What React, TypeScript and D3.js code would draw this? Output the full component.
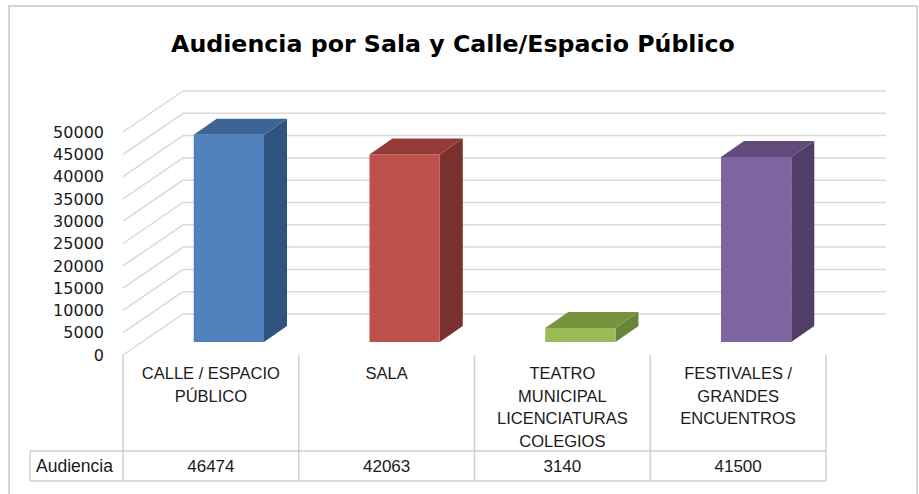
import React from "react";
import * as d3 from "d3";

const categories: string[][] = [
  ["CALLE / ESPACIO", "PÚBLICO"],
  ["SALA"],
  ["TEATRO", "MUNICIPAL", "LICENCIATURAS", "COLEGIOS"],
  ["FESTIVALES /", "GRANDES", "ENCUENTROS"],
];
const values: number[] = [46474, 42063, 3140, 41500];
const seriesName = "Audiencia";
const yTicks: number[] = [0, 5000, 10000, 15000, 20000, 25000, 30000, 35000, 40000, 45000, 50000];
const frontColors = ["#4F81BD", "#C0504D", "#9BBB59", "#8064A2"];
const topColors = ["#3C6494", "#943B39", "#77933C", "#604B7B"];
const sideColors = ["#31537F", "#7A302E", "#67843A", "#503E66"];
const title = "Audiencia por Sala y Calle/Espacio Público";

const W = 919;
const H = 494;
const plotLeft = 123;
const plotRight = 826;
const floorY = 355;
const topY = 132;
const wallDX = 60;
const wallDY = -41;
const barDX = 19;
const barDY = -13;
const depthDX = 23;
const depthDY = -16;

export default function App() {
  const x = d3.scaleBand<number>().domain(d3.range(categories.length)).range([plotLeft, plotRight]).padding(0);
  const y = d3.scaleLinear().domain([0, 50000]).range([floorY, topY]);
  const bw = x.bandwidth();
  const barW = bw * 0.4;
  const gridColor = "#d9d9d9";
  const tableColor = "#cfcfcf";
  const tableFont = "'Liberation Sans', Arial, sans-serif";
  const rowTop = 451;
  const rowBottom = 481;
  const tableLeft = 30;

  return (
    <svg width={W} height={H} style={{ position: "absolute", left: 0, top: 0, background: "#fff" }}>
      <rect x={9} y={6} width={908} height={500} fill="#fff" stroke="#d4d4d4" strokeWidth={2} />
      <text x={453} y={52} textAnchor="middle" fontFamily="'DejaVu Sans', Verdana, sans-serif" fontWeight="bold" fontSize={23.7} fill="#000">
        {title}
      </text>
      {/* gridlines: left wall diagonals and back wall */}
      {yTicks.map((t) => {
        const yy = y(t);
        return (
          <g key={"g" + t}>
            <line x1={plotLeft} y1={yy} x2={plotLeft + wallDX} y2={yy + wallDY} stroke={gridColor} strokeWidth={1.5} />
            <line x1={plotLeft + wallDX} y1={yy + wallDY} x2={plotRight + wallDX} y2={yy + wallDY} stroke={gridColor} strokeWidth={1.5} />
          </g>
        );
      })}
      {/* y axis labels */}
      {yTicks.map((t) => (
        <text key={"t" + t} x={104} y={y(t)} dy="0.36em" textAnchor="end" fontFamily="'DejaVu Sans', Verdana, sans-serif" fontSize={16} fill="#1a1a1a">
          {t}
        </text>
      ))}
      {/* bars */}
      {values.map((v, i) => {
        const cx = (x(i) as number) + bw / 2 + barDX - 1;
        const x0 = cx - barW / 2;
        const x1 = cx + barW / 2;
        const yb = y(0) + barDY;
        const yt = y(v) + barDY;
        const top = `${x0},${yt} ${x0 + depthDX},${yt + depthDY} ${x1 + depthDX},${yt + depthDY} ${x1},${yt}`;
        const side = `${x1},${yt} ${x1 + depthDX},${yt + depthDY} ${x1 + depthDX},${yb + depthDY} ${x1},${yb}`;
        return (
          <g key={"b" + i}>
            <polygon points={side} fill={sideColors[i]} />
            <polygon points={top} fill={topColors[i]} />
            <rect x={x0} y={yt} width={barW} height={yb - yt} fill={frontColors[i]} />
          </g>
        );
      })}
      {/* data table */}
      {d3.range(categories.length + 1).map((i) => {
        const xx = i < categories.length ? (x(i) as number) : plotRight;
        return <line key={"v" + i} x1={xx} y1={floorY} x2={xx} y2={rowBottom} stroke={tableColor} strokeWidth={1.5} />;
      })}
      <line x1={tableLeft} y1={rowTop} x2={plotRight} y2={rowTop} stroke={tableColor} strokeWidth={1.5} />
      <line x1={tableLeft} y1={rowBottom} x2={plotRight} y2={rowBottom} stroke={tableColor} strokeWidth={1.5} />
      <line x1={tableLeft} y1={rowTop} x2={tableLeft} y2={rowBottom} stroke={tableColor} strokeWidth={1.5} />
      {categories.map((lines, i) => (
        <text key={"c" + i} textAnchor="middle" fontFamily={tableFont} fontSize={16.5} fill="#1a1a1a">
          {lines.map((l, j) => (
            <tspan key={j} x={(x(i) as number) + bw / 2} y={379 + j * 22.5}>
              {l}
            </tspan>
          ))}
        </text>
      ))}
      <text x={36} y={472} fontFamily={tableFont} fontSize={17.5} fill="#1a1a1a">
        {seriesName}
      </text>
      {values.map((v, i) => (
        <text key={"d" + i} x={(x(i) as number) + bw / 2} y={472} textAnchor="middle" fontFamily={tableFont} fontSize={17} fill="#1a1a1a">
          {v}
        </text>
      ))}
    </svg>
  );
}
